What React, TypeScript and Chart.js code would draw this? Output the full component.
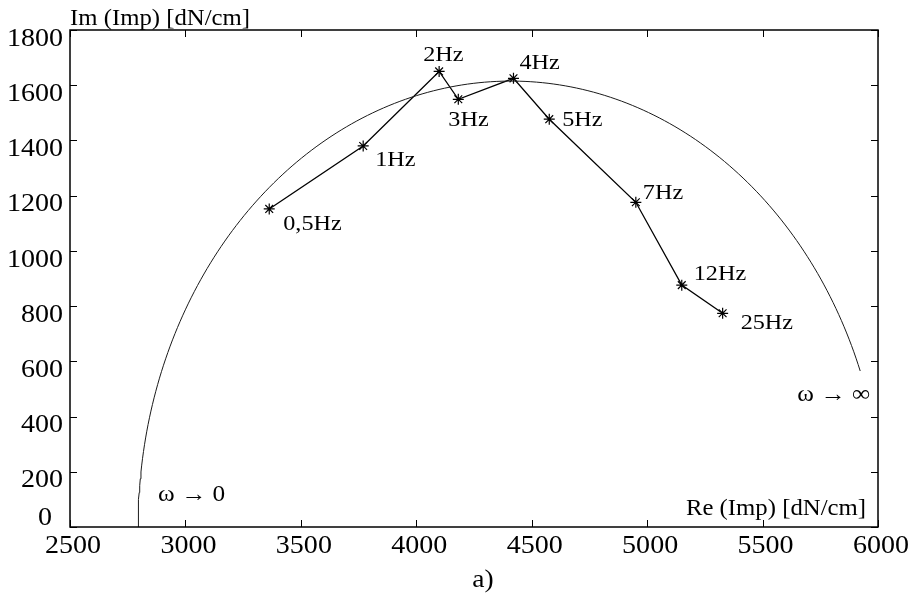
import React, { useEffect, useRef } from "react";
import { Chart, registerables } from "chart.js";

Chart.register(...registerables);

// ---- Data ----
const FREQ_LABELS = ["0,5Hz", "1Hz", "2Hz", "3Hz", "4Hz", "5Hz", "7Hz", "12Hz", "25Hz"];
const RE_VALUES = [3363, 3770, 4099, 4182, 4421, 4576, 4951, 5150, 5327];
const IM_VALUES = [1152, 1380, 1650, 1549, 1625, 1477, 1176, 876, 774];

const X_TICKS = [2500, 3000, 3500, 4000, 4500, 5000, 5500, 6000];
const Y_TICKS = [0, 200, 400, 600, 800, 1000, 1200, 1400, 1600, 1800];

// fitted semicircle (Re centre, radius, Im at the end of the drawn arc)
const ARC_CENTER_RE = 4410;
const ARC_RADIUS = 1615;
const ARC_END_IM = 565;
const ARC_STEPS = 180;

// label placement relative to each point (left edge dx, centre dy) in px
const LABEL_OFFSETS: [number, number][] = [
  [14, 15], [12, 14], [-16, -16], [-10, 21], [6, -15], [13, 1], [7, -9], [12, -11], [18, 10],
];

const FONT = '"Liberation Serif", "Times New Roman", serif';
const SX = 1.1;

function buildArc() {
  const pts: { x: number; y: number }[] = [];
  const endAngle = Math.asin(ARC_END_IM / ARC_RADIUS);
  for (let i = 0; i <= ARC_STEPS; i++) {
    const a = Math.PI - (Math.PI - endAngle) * (i / ARC_STEPS);
    pts.push({ x: ARC_CENTER_RE + ARC_RADIUS * Math.cos(a), y: ARC_RADIUS * Math.sin(a) });
  }
  return pts;
}

function txt(ctx: CanvasRenderingContext2D, s: string, x: number, y: number, size: number, align: CanvasTextAlign) {
  ctx.save();
  ctx.font = `${size}px ${FONT}`;
  ctx.fillStyle = "#000";
  ctx.textBaseline = "middle";
  ctx.textAlign = align;
  ctx.translate(x, y);
  ctx.scale(SX, 1);
  ctx.fillText(s, 0, 0);
  ctx.restore();
}

const decorPlugin = {
  id: "decor",
  afterDraw(chart: any) {
    const ctx: CanvasRenderingContext2D = chart.ctx;
    const { left, top, right, bottom } = chart.chartArea;
    const xs = chart.scales.x;
    const ys = chart.scales.y;
    ctx.save();
    ctx.strokeStyle = "#000";
    ctx.lineWidth = 1.5;
    ctx.strokeRect(left, top, right - left, bottom - top);
    ctx.lineWidth = 1;
    const TL = 7;
    ctx.beginPath();
    X_TICKS.forEach((v) => {
      const px = Math.round(xs.getPixelForValue(v)) + 0.5;
      ctx.moveTo(px, bottom);
      ctx.lineTo(px, bottom - TL);
      ctx.moveTo(px, top);
      ctx.lineTo(px, top + TL);
    });
    Y_TICKS.forEach((v) => {
      const py = Math.round(ys.getPixelForValue(v)) + 0.5;
      ctx.moveTo(left, py);
      ctx.lineTo(left + TL, py);
      ctx.moveTo(right, py);
      ctx.lineTo(right - TL, py);
    });
    ctx.stroke();
    ctx.restore();

    // tick labels
    X_TICKS.forEach((v) => {
      txt(ctx, String(v), xs.getPixelForValue(v) + 3, bottom + 19, 25.5, "center");
    });
    Y_TICKS.forEach((v) => {
      const py = ys.getPixelForValue(v);
      if (v === 0) txt(ctx, "0", left - 18, py - 9, 25.5, "right");
      else txt(ctx, String(v), left - 7, py + 9, 25.5, "right");
    });

    // axis titles & notes
    txt(ctx, "Im (Imp) [dN/cm]", left, top - 11, 22.5, "left");
    txt(ctx, "Re (Imp) [dN/cm]", right - 12, bottom - 18, 22.5, "right");
    txt(ctx, "ω → 0", left + 88, bottom - 32, 23, "left");
    txt(ctx, "ω → ∞", right - 8, bottom - 132, 23, "right");
    txt(ctx, "a)", (left + right) / 2 + 9, bottom + 53, 25, "center");

    // point labels
    const meta = chart.getDatasetMeta(1);
    meta.data.forEach((el: any, i: number) => {
      const [dx, dy] = LABEL_OFFSETS[i];
      txt(ctx, FREQ_LABELS[i], el.x + dx, el.y + dy, 22, "left");
    });
  },
};

export default function App() {
  const ref = useRef<HTMLCanvasElement | null>(null);
  useEffect(() => {
    if (!ref.current) return;
    const chart = new Chart(ref.current, {
      type: "scatter",
      data: {
        datasets: [
          {
            label: "arc",
            data: buildArc(),
            showLine: true,
            borderColor: "#1a1a1a",
            borderWidth: 1,
            pointRadius: 0,
            fill: false,
          },
          {
            label: "Imp",
            data: RE_VALUES.map((x, i) => ({ x, y: IM_VALUES[i] })),
            showLine: true,
            borderColor: "#000",
            borderWidth: 1.3,
            pointStyle: "star",
            pointRadius: 5.5,
            pointBorderWidth: 1.2,
            pointBorderColor: "#000",
            pointBackgroundColor: "#000",
            fill: false,
          },
        ],
      },
      options: {
        animation: false,
        responsive: false,
        devicePixelRatio: 1,
        layout: { padding: { left: 70, top: 30, right: 39, bottom: 66 } },
        plugins: { legend: { display: false }, tooltip: { enabled: false } },
        scales: {
          x: { type: "linear", min: 2500, max: 6000, display: false },
          y: { type: "linear", min: 0, max: 1800, display: false },
        },
      },
      plugins: [decorPlugin],
    });
    return () => chart.destroy();
  }, []);
  return (
    <div style={{ position: "fixed", left: 0, top: 0, width: 917, height: 593, background: "#fff" }}>
      <canvas ref={ref} width={917} height={593} style={{ display: "block" }} />
    </div>
  );
}
